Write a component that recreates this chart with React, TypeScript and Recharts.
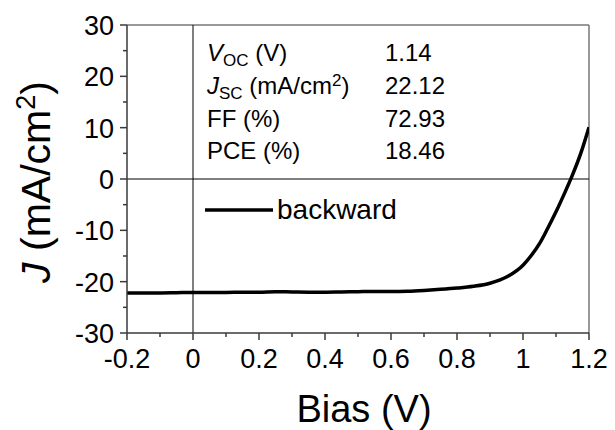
import React from "react";
import { LineChart, Line, XAxis, YAxis, ReferenceLine, Legend } from "recharts";

const biasV = [
  -0.2, -0.15, -0.1, -0.05, 0, 0.05, 0.1, 0.15, 0.2, 0.25, 0.3, 0.35, 0.4, 0.45, 0.5,
  0.55, 0.6, 0.65, 0.7, 0.75, 0.8, 0.85, 0.9, 0.95, 1.0, 1.025, 1.05, 1.075, 1.1,
  1.125, 1.15, 1.175, 1.2,
];
const currentJ = [
  -22.2, -22.2, -22.2, -22.15, -22.1, -22.1, -22.1, -22.05, -22.05, -21.95, -22.0,
  -22.05, -22.05, -22.0, -21.95, -21.9, -21.9, -21.85, -21.7, -21.5, -21.25, -20.9,
  -20.3, -19.1, -16.8, -14.9, -12.6, -9.6, -6.4, -2.9, 0.8, 5.0, 10.1,
];
const xTicks = [-0.2, -0.1, 0, 0.1, 0.2, 0.3, 0.4, 0.5, 0.6, 0.7, 0.8, 0.9, 1, 1.1, 1.2];
const xMajorLabels = ["-0.2", "0", "0.2", "0.4", "0.6", "0.8", "1", "1.2"];
const yTicks = [-30, -25, -20, -15, -10, -5, 0, 5, 10, 15, 20, 25, 30];
const yMajorLabels = ["-30", "-20", "-10", "0", "10", "20", "30"];
const paramValues = ["1.14", "22.12", "72.93", "18.46"];
const seriesName = "backward";

const data = biasV.map((v, i) => ({ v, j: currentJ[i] }));

const FONT = "'Liberation Sans', Arial, sans-serif";
const AXIS = "#3a3a3a";
const FRAME = "#777";

const fmtX = (v: number) => String(Math.round(v * 10) / 10);

const XTick = (props: any) => {
  const { x, y, payload } = props;
  const label = fmtX(payload.value);
  const major = xMajorLabels.includes(label);
  return (
    <g>
      <line x1={x} x2={x} y1={y} y2={y + (major ? 7 : 4)} stroke={AXIS} strokeWidth={1.5} />
      {major && (
        <text x={x} y={y + 35} textAnchor="middle" fontSize={27} fill="#000" fontFamily={FONT}>
          {label}
        </text>
      )}
    </g>
  );
};

const YTick = (props: any) => {
  const { x, y, payload } = props;
  const label = String(payload.value);
  const major = yMajorLabels.includes(label);
  return (
    <g>
      <line x1={x} x2={x - (major ? 7 : 4)} y1={y} y2={y} stroke={AXIS} strokeWidth={1.5} />
      {major && (
        <text x={x - 13} y={y + 10} textAnchor="end" fontSize={27} fill="#000" fontFamily={FONT}>
          {label}
        </text>
      )}
    </g>
  );
};

const LegendContent = () => (
  <div style={{ display: "flex", alignItems: "center", fontFamily: FONT, fontSize: 28, color: "#000" }}>
    <svg width={68} height={10} style={{ display: "block" }}>
      <line x1={0} x2={68} y1={5} y2={5} stroke="#000" strokeWidth={3.5} />
    </svg>
    <span style={{ marginLeft: 4, lineHeight: "32px" }}>{seriesName}</span>
  </div>
);

export default function App() {
  const rowY = [61, 94, 127, 159];
  return (
    <div style={{ position: "absolute", left: 0, top: 0, width: 615, height: 430, background: "#fff" }}>
      <LineChart
        width={615}
        height={430}
        data={data}
        margin={{ top: 25, right: 26, bottom: 67, left: 67 }}
      >
        <XAxis
          dataKey="v"
          type="number"
          domain={[-0.2, 1.2]}
          ticks={xTicks}
          interval={0}
          tickSize={0}
          tickMargin={0}
          tick={<XTick />}
          axisLine={{ stroke: AXIS, strokeWidth: 1.5 }}
          allowDataOverflow
        />
        <YAxis
          type="number"
          domain={[-30, 30]}
          ticks={yTicks}
          interval={0}
          tickSize={0}
          tickMargin={0}
          tick={<YTick />}
          width={60}
          axisLine={{ stroke: AXIS, strokeWidth: 1.5 }}
          allowDataOverflow
        />
        <ReferenceLine y={30} stroke={FRAME} strokeWidth={1.5} />
        <ReferenceLine x={1.2} stroke={FRAME} strokeWidth={1.5} />
        <ReferenceLine x={0} stroke="#000" strokeWidth={1} />
        <ReferenceLine y={0} stroke="#000" strokeWidth={1} />
        <Legend
          layout="horizontal"
          verticalAlign="middle"
          align="center"
          content={<LegendContent />}
          wrapperStyle={{ position: "absolute", left: 205, top: 194, width: "auto", height: "auto" }}
        />
        <Line
          dataKey="j"
          name={seriesName}
          type="monotone"
          stroke="#000"
          strokeWidth={3.5}
          dot={false}
          isAnimationActive={false}
        />
      </LineChart>
      <svg
        width={615}
        height={430}
        style={{ position: "absolute", left: 0, top: 0, pointerEvents: "none" }}
        fontFamily={FONT}
      >
        <text transform="translate(50,182) rotate(-90)" textAnchor="middle" fontSize={41} fill="#000">
          <tspan fontStyle="italic">J</tspan>
          <tspan> (mA/cm</tspan>
          <tspan fontSize={27} dy={-15}>2</tspan>
          <tspan dy={15}>)</tspan>
        </text>
        <text x={364} y={422} textAnchor="middle" fontSize={38} fill="#000">
          Bias (V)
        </text>
        <text x={207} y={rowY[0]} fontSize={24} fill="#000">
          <tspan fontStyle="italic">V</tspan>
          <tspan fontSize={17} dy={5}>OC</tspan>
          <tspan dy={-5}> (V)</tspan>
        </text>
        <text x={207} y={rowY[1]} fontSize={24} fill="#000">
          <tspan fontStyle="italic">J</tspan>
          <tspan fontSize={17} dy={5}>SC</tspan>
          <tspan dy={-5}> (mA/cm</tspan>
          <tspan fontSize={17} dy={-8}>2</tspan>
          <tspan dy={8}>)</tspan>
        </text>
        <text x={207} y={rowY[2]} fontSize={24} fill="#000">FF (%)</text>
        <text x={207} y={rowY[3]} fontSize={24} fill="#000">PCE (%)</text>
        {paramValues.map((s, i) => (
          <text key={s} x={385} y={rowY[i]} fontSize={24} fill="#000">
            {s}
          </text>
        ))}
      </svg>
    </div>
  );
}
